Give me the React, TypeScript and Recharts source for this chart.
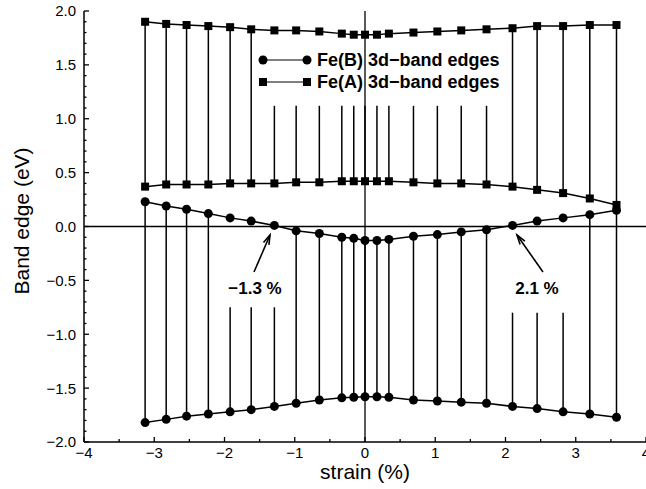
import React from 'react';
import { ComposedChart, Line, XAxis, YAxis, ReferenceLine } from 'recharts';

// strain (%) of each calculated point
const strain = [-3.13, -2.83, -2.54, -2.23, -1.92, -1.62, -1.29, -0.98, -0.65, -0.33, -0.16, 0, 0.17, 0.34, 0.69, 1.03, 1.37, 1.73, 2.1, 2.45, 2.82, 3.2, 3.58];

// Fe(B) 3d-band edges (eV), circles
const feBUpper = [0.23, 0.19, 0.16, 0.12, 0.08, 0.05, 0.01, -0.04, -0.065, -0.1, -0.11, -0.13, -0.13, -0.12, -0.09, -0.075, -0.05, -0.03, 0.01, 0.05, 0.08, 0.11, 0.15];
const feBLower = [-1.82, -1.79, -1.76, -1.74, -1.72, -1.7, -1.67, -1.64, -1.61, -1.59, -1.585, -1.58, -1.58, -1.585, -1.61, -1.62, -1.63, -1.64, -1.67, -1.69, -1.72, -1.74, -1.77];

// Fe(A) 3d-band edges (eV), squares
const feAUpper = [1.9, 1.88, 1.87, 1.86, 1.85, 1.83, 1.82, 1.82, 1.81, 1.79, 1.78, 1.78, 1.78, 1.79, 1.8, 1.81, 1.82, 1.83, 1.84, 1.86, 1.86, 1.87, 1.87];
const feALower = [0.37, 0.39, 0.39, 0.39, 0.4, 0.4, 0.4, 0.41, 0.41, 0.42, 0.42, 0.42, 0.42, 0.42, 0.41, 0.4, 0.4, 0.39, 0.37, 0.34, 0.31, 0.26, 0.2];

const xTicks = [-4, -3.5, -3, -2.5, -2, -1.5, -1, -0.5, 0, 0.5, 1, 1.5, 2, 2.5, 3, 3.5, 4];
const yTicks = [
  -2, -1.9, -1.8, -1.7, -1.6, -1.5, -1.4, -1.3, -1.2, -1.1, -1, -0.9, -0.8, -0.7, -0.6, -0.5, -0.4, -0.3, -0.2, -0.1,
  0, 0.1, 0.2, 0.3, 0.4, 0.5, 0.6, 0.7, 0.8, 0.9, 1, 1.1, 1.2, 1.3, 1.4, 1.5, 1.6, 1.7, 1.8, 1.9, 2,
];

const data = strain.map((s, i) => ({
  strain: s,
  bU: feBUpper[i],
  bL: feBLower[i],
  aU: feAUpper[i],
  aL: feALower[i],
}));

// the legend and the two labels sit on white, so the drop lines stop at them
const aTop = (x: number, y: number) => (x > -1.5 && x < 1.9 ? Math.min(y, 1.12) : y);
const bTop = (x: number, y: number) => {
  if (x > -2.0 && x < -1.2) return -0.75;
  if (x > 2.0 && x < 2.9) return -0.8;
  return y;
};

const FONT = '"Liberation Sans", Arial, Helvetica, sans-serif';
const minus = (s: string) => s.replace('-', '\u2212');
const isInt = (v: number) => Math.abs(v - Math.round(v)) < 1e-6;
const isHalf = (v: number) => Math.abs(v * 2 - Math.round(v * 2)) < 1e-6;

const BottomTick = (p: any) => {
  const v = p.payload.value;
  const major = isInt(v);
  return (
    <g>
      <line x1={p.x} x2={p.x} y1={p.y} y2={p.y - (major ? 5 : 3)} stroke="#000" strokeWidth={1.3} />
      {major && (
        <text x={p.x} y={p.y + 16} textAnchor="middle" fontSize={15} fontFamily={FONT} fill="#000">
          {minus(String(v))}
        </text>
      )}
    </g>
  );
};

const TopTick = (p: any) => {
  const major = isInt(p.payload.value);
  return <line x1={p.x} x2={p.x} y1={p.y} y2={p.y + (major ? 5 : 3)} stroke="#000" strokeWidth={1.3} />;
};

const LeftTick = (p: any) => {
  const v = p.payload.value;
  const major = isHalf(v);
  return (
    <g>
      <line x1={p.x} x2={p.x + (major ? 5 : 2.5)} y1={p.y} y2={p.y} stroke="#000" strokeWidth={1.3} />
      {major && (
        <text x={p.x - 8} y={p.y} dy="0.36em" textAnchor="end" fontSize={15} fontFamily={FONT} fill="#000">
          {minus(v.toFixed(1))}
        </text>
      )}
    </g>
  );
};

const RightTick = (p: any) => {
  const major = isHalf(p.payload.value);
  return <line x1={p.x} x2={p.x - (major ? 5 : 2.5)} y1={p.y} y2={p.y} stroke="#000" strokeWidth={1.3} />;
};

const Square = (p: any) => (
  <rect key={`sq-${p.dataKey}-${p.index}`} x={p.cx - 4} y={p.cy - 4} width={8} height={8} fill="#000" />
);

const Arrow = ({ x1, y1, x2, y2 }: { x1: number; y1: number; x2: number; y2: number }) => {
  const a = Math.atan2(y2 - y1, x2 - x1);
  const h = 10;
  const w = 0.3;
  const p1 = [x2 - h * Math.cos(a - w), y2 - h * Math.sin(a - w)];
  const p2 = [x2 - h * Math.cos(a + w), y2 - h * Math.sin(a + w)];
  return (
    <g stroke="#000" strokeWidth={1.6} fill="none">
      <line x1={x1} y1={y1} x2={x2} y2={y2} />
      <polyline points={`${p1[0]},${p1[1]} ${x2},${y2} ${p2[0]},${p2[1]}`} />
    </g>
  );
};

export default function App() {
  return (
    <div style={{ position: 'relative', width: 646, height: 489, overflow: 'hidden', background: '#fff' }}>
      <style>{'body{margin:0;}'}</style>
      <ComposedChart width={650} height={489} data={data} margin={{ top: 11, right: 4, bottom: 0, left: 0 }}>
        <XAxis
          dataKey="strain"
          type="number"
          domain={[-4, 4]}
          ticks={xTicks}
          interval={0}
          allowDataOverflow
          height={47}
          tickSize={0}
          tickMargin={0}
          tick={BottomTick}
          axisLine={{ stroke: '#000', strokeWidth: 1.5 }}
        />
        <XAxis
          xAxisId="top"
          orientation="top"
          type="number"
          domain={[-4, 4]}
          ticks={xTicks}
          interval={0}
          allowDataOverflow
          height={0}
          tickSize={0}
          tickMargin={0}
          tick={TopTick}
          axisLine={{ stroke: '#000', strokeWidth: 1.5 }}
        />
        <YAxis
          type="number"
          domain={[-2, 2]}
          ticks={yTicks}
          interval={0}
          allowDataOverflow
          width={84}
          tickSize={0}
          tickMargin={0}
          tick={LeftTick}
          axisLine={{ stroke: '#000', strokeWidth: 1.5 }}
        />
        <YAxis
          yAxisId="right"
          orientation="right"
          type="number"
          domain={[-2, 2]}
          ticks={yTicks}
          interval={0}
          allowDataOverflow
          width={0}
          tickSize={0}
          tickMargin={0}
          tick={RightTick}
          axisLine={{ stroke: '#000', strokeWidth: 1.5 }}
        />

        {data.map((d) => (
          <ReferenceLine
            key={`a-${d.strain}`}
            segment={[{ x: d.strain, y: d.aL }, { x: d.strain, y: aTop(d.strain, d.aU) }]}
            stroke="#000"
            strokeWidth={1.5}
          />
        ))}
        {data.map((d) => (
          <ReferenceLine
            key={`b-${d.strain}`}
            segment={[{ x: d.strain, y: d.bL }, { x: d.strain, y: bTop(d.strain, d.bU) }]}
            stroke="#000"
            strokeWidth={1.5}
          />
        ))}
        <ReferenceLine x={0} stroke="#000" strokeWidth={1.3} />
        <ReferenceLine y={0} stroke="#000" strokeWidth={1.3} />

        <Line dataKey="bU" stroke="#000" strokeWidth={1.5} dot={{ r: 4.5, fill: '#000', stroke: '#000', strokeWidth: 0 }} isAnimationActive={false} />
        <Line dataKey="bL" stroke="#000" strokeWidth={1.5} dot={{ r: 4.5, fill: '#000', stroke: '#000', strokeWidth: 0 }} isAnimationActive={false} />
        <Line dataKey="aU" stroke="#000" strokeWidth={1.5} dot={Square} isAnimationActive={false} />
        <Line dataKey="aL" stroke="#000" strokeWidth={1.5} dot={Square} isAnimationActive={false} />
      </ComposedChart>

      <svg width={646} height={489} style={{ position: 'absolute', left: 0, top: 0, pointerEvents: 'none' }}>
        <text
          transform="translate(29,221) rotate(-90)"
          textAnchor="middle"
          fontSize={21}
          fontFamily={FONT}
          fill="#000"
        >
          Band edge (eV)
        </text>
        <text x={365} y={479} textAnchor="middle" fontSize={21} fontFamily={FONT} fill="#000">
          strain (%)
        </text>

        <g>
          <line x1={263} x2={307} y1={60} y2={60} stroke="#000" strokeWidth={1.2} />
          <circle cx={263} cy={60} r={4.5} fill="#000" />
          <circle cx={307} cy={60} r={4.5} fill="#000" />
          <text x={317} y={66} fontSize={18} fontWeight="bold" fontFamily={FONT} fill="#000">
            Fe(B) 3d{'\u2212'}band edges
          </text>
          <line x1={263} x2={307} y1={82} y2={82} stroke="#000" strokeWidth={1.2} />
          <rect x={259} y={78} width={8} height={8} fill="#000" />
          <rect x={303} y={78} width={8} height={8} fill="#000" />
          <text x={317} y={88} fontSize={18} fontWeight="bold" fontFamily={FONT} fill="#000">
            Fe(A) 3d{'\u2212'}band edges
          </text>
        </g>

        <text x={255} y={294} textAnchor="middle" fontSize={17} fontWeight="bold" fontFamily={FONT} fill="#000">
          {'\u2212'}1.3 %
        </text>
        <Arrow x1={254} y1={272} x2={270} y2={235} />
        <text x={537} y={294} textAnchor="middle" fontSize={17} fontWeight="bold" fontFamily={FONT} fill="#000">
          2.1 %
        </text>
        <Arrow x1={543} y1={272} x2={517} y2={235} />
      </svg>
    </div>
  );
}
